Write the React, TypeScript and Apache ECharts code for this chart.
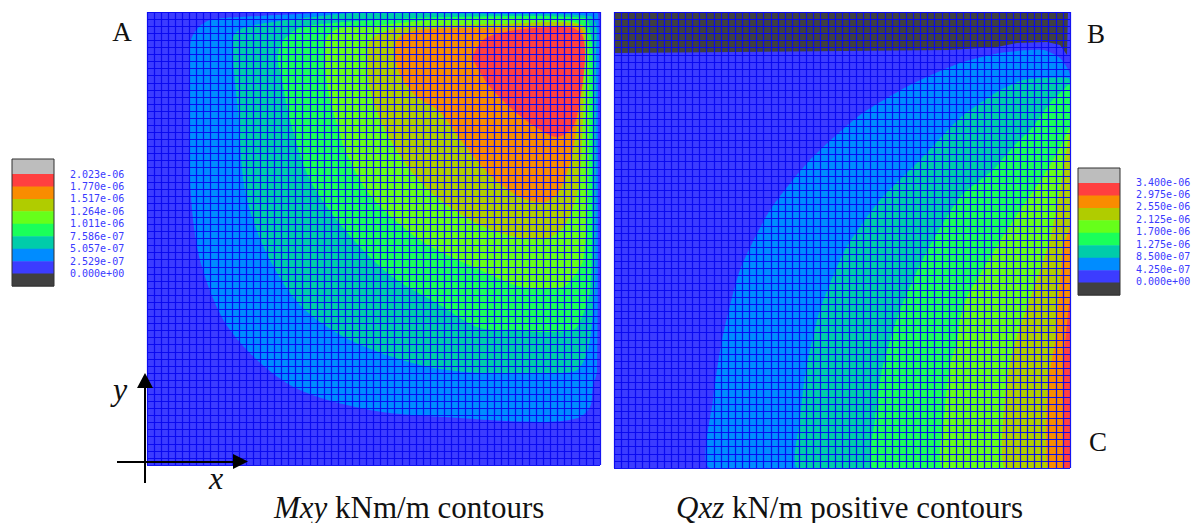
import React, { useEffect, useRef } from "react";
import * as echarts from "echarts";

type Pt = [number, number];

const bandColors = ["#bdbdbd", "#ff4040", "#f98c00", "#b0cc00", "#66ff1a", "#1aff5a", "#00ccaa", "#008cff", "#3c3cff", "#404040"];
const mxyTicks = ["2.023e-06", "1.770e-06", "1.517e-06", "1.264e-06", "1.011e-06", "7.586e-07", "5.057e-07", "2.529e-07", "0.000e+00"];
const qxzTicks = ["3.400e-06", "2.975e-06", "2.550e-06", "2.125e-06", "1.700e-06", "1.275e-06", "8.500e-07", "4.250e-07", "0.000e+00"];

const SIZE_A_X = 453;
const SIZE_A_Y = 453;
const SIZE_B = 456;
const CELLS = 64;

const mxyLightBlue: Pt[] = [[188,453],[153,451],[93,448],[63,445],[51,437],[44,425],[43,405],[43,285],[53,205],[83,135],[143,80],[223,55],[313,47],[393,43],[431,47],[443,58],[446,78],[450,95],[451,365],[451,451],[443,453]];
const mxyTeal: Pt[] = [[206,452],[166,448],[126,443],[96,437],[86,428],[86,405],[91,355],[98,275],[118,215],[153,160],[203,125],[273,100],[333,92],[410,92],[430,95],[440,112],[445,142],[448,178],[449,415],[449,440],[443,449],[353,451]];
const mxyGreen: Pt[] = [[213,444],[186,442],[153,437],[135,423],[131,405],[135,385],[143,345],[163,285],[198,235],[243,190],[293,160],[333,137],[373,135],[390,133],[426,135],[433,143],[443,175],[445,265],[446,405],[443,435],[438,447],[303,448]];
const mxyLime: Pt[] = [[213,438],[193,437],[180,428],[177,410],[183,365],[191,338],[198,315],[223,270],[273,225],[333,195],[376,178],[416,178],[428,190],[436,205],[441,265],[442,405],[439,435],[423,444],[303,446]];
const mxyOlive: Pt[] = [[225,427],[253,437],[353,441],[435,440],[437,415],[436,345],[431,275],[418,240],[401,227],[373,227],[333,240],[293,265],[263,295],[238,335],[223,375],[221,415]];
const mxyOrange: Pt[] = [[250,425],[273,435],[353,437],[433,437],[436,415],[433,365],[425,310],[413,275],[398,263],[373,268],[343,290],[316,322],[293,353],[268,370],[251,395]];
const mxyRed: Pt[] = [[326,408],[336,425],[353,432],[386,437],[426,437],[436,428],[438,405],[433,365],[426,338],[410,328],[390,337],[366,355],[343,378],[330,398]];

const qxzLightBlue: Pt[] = [[96,0],[99,68],[108,128],[126,198],[156,258],[196,308],[246,353],[296,383],[346,405],[386,415],[429,418],[446,410],[456,393],[456,0]];
const qxzTeal: Pt[] = [[184,0],[186,48],[192,98],[206,158],[231,218],[266,268],[306,308],[346,350],[383,376],[409,388],[436,390],[456,388],[456,0]];
const qxzGreen: Pt[] = [[259,0],[261,48],[268,98],[286,158],[311,213],[346,271],[379,298],[399,321],[418,340],[436,365],[446,375],[456,383],[456,0]];
const qxzLime: Pt[] = [[329,0],[331,58],[336,103],[343,126],[346,148],[353,171],[379,215],[393,238],[413,268],[429,291],[443,315],[453,335],[456,340],[456,0]];
const qxzOlive: Pt[] = [[391,0],[391,71],[396,105],[404,135],[411,155],[426,198],[436,228],[446,278],[453,321],[456,335],[456,0]];
const qxzOrange: Pt[] = [[434,0],[434,85],[441,125],[443,148],[446,188],[449,221],[454,235],[456,240],[456,0]];
const qxzRed: Pt[] = [[449,0],[449,105],[451,125],[454,155],[456,170],[456,0]];
const qxzDark: Pt[] = [[0,456],[454,456],[453,413],[446,423],[433,426],[403,425],[383,421],[336,418],[0,415]];

const MESH = "#0808f0";
const serif = "'Liberation Serif', serif";

function contour(points: Pt[], color: string, axis: number, smooth: number) {
  return {
    type: "custom",
    coordinateSystem: "cartesian2d",
    xAxisIndex: axis,
    yAxisIndex: axis,
    clip: true,
    silent: true,
    data: points,
    renderItem: (params: any, api: any) => {
      if (params.dataIndex !== 0) return null;
      return {
        type: "polygon",
        shape: { points: points.map((p) => api.coord(p)), smooth },
        style: { fill: color, stroke: null },
      };
    },
  };
}

function legend(left: number, top: number, labelX: number, firstLabelY: number, step: number, ticks: string[]) {
  const els: any[] = [];
  const w = 42;
  bandColors.forEach((c, i) => {
    const y0 = i === 0 ? top : top + 15 + (i - 1) * step;
    const h = i === 0 ? 15 : step;
    els.push({ type: "rect", shape: { x: left, y: y0, width: w, height: h + 0.5 }, style: { fill: c }, z: 50 });
  });
  els.push({
    type: "rect",
    shape: { x: left, y: top, width: w, height: 15 + step * 9 },
    style: { fill: "transparent", stroke: "#303030", lineWidth: 1 },
    z: 51,
  });
  ticks.forEach((t, i) => {
    els.push({
      type: "text",
      x: labelX,
      y: firstLabelY + i * step,
      style: { text: t, fill: "#3a3aff", font: "10px 'DejaVu Sans Mono', monospace", textVerticalAlign: "middle", textAlign: "left" },
      z: 52,
    });
  });
  return els;
}

function label(text: string, x: number, y: number, size: number, italic = false) {
  return {
    type: "text",
    x,
    y,
    style: {
      text,
      fill: "#111",
      font: `${italic ? "italic " : ""}${size}px ${serif}`,
      textAlign: "center",
      textVerticalAlign: "middle",
    },
    z: 60,
  };
}

function caption(italicPart: string, rest: string, x: number, y: number, size: number) {
  return {
    type: "text",
    x,
    y,
    style: {
      text: `{i|${italicPart}}{r|${rest}}`,
      textAlign: "left",
      textVerticalAlign: "middle",
      rich: {
        i: { font: `italic ${size}px ${serif}`, fill: "#111" },
        r: { font: `${size}px ${serif}`, fill: "#111" },
      },
    },
    z: 60,
  };
}

function axisPair(index: number, max: number) {
  return {
    gridIndex: index,
    type: "value",
    min: 0,
    max,
    interval: max / CELLS,
    z: 10,
    axisLine: { show: false },
    axisTick: { show: false },
    axisLabel: { show: false },
    splitLine: { show: true, lineStyle: { color: MESH, width: 1.2, opacity: 0.95 } },
  };
}

export default function App() {
  const ref = useRef<HTMLDivElement>(null);
  useEffect(() => {
    const chart = echarts.init(ref.current!, undefined, { renderer: "svg" });
    const [, , , olive, lime, green, teal, lightBlue, blue, dark] = bandColors;
    const [, red, orange] = bandColors;
    chart.setOption({
      animation: false,
      backgroundColor: "#ffffff",
      grid: [
        { left: 147, top: 12, width: SIZE_A_X, height: SIZE_A_Y, show: true, backgroundColor: blue, borderWidth: 0 },
        { left: 614, top: 12, width: SIZE_B, height: SIZE_B, show: true, backgroundColor: blue, borderWidth: 0 },
      ],
      xAxis: [axisPair(0, SIZE_A_X), axisPair(1, SIZE_B)],
      yAxis: [axisPair(0, SIZE_A_Y), axisPair(1, SIZE_B)],
      series: [
        contour(mxyLightBlue, lightBlue, 0, 0.3),
        contour(mxyTeal, teal, 0, 0.3),
        contour(mxyGreen, green, 0, 0.3),
        contour(mxyLime, lime, 0, 0.3),
        contour(mxyOlive, olive, 0, 0.3),
        contour(mxyOrange, orange, 0, 0.3),
        contour(mxyRed, red, 0, 0.3),
        contour(qxzLightBlue, lightBlue, 1, 0.2),
        contour(qxzTeal, teal, 1, 0.2),
        contour(qxzGreen, green, 1, 0.2),
        contour(qxzLime, lime, 1, 0.2),
        contour(qxzOlive, olive, 1, 0.2),
        contour(qxzOrange, orange, 1, 0.2),
        contour(qxzRed, red, 1, 0),
        contour(qxzDark, dark, 1, 0),
      ],
      graphic: {
        elements: [
          ...legend(12, 159, 70, 174, 12.45, mxyTicks),
          ...legend(1078, 168, 1136, 182, 12.45, qxzTicks),
          label("A", 122, 32, 27),
          label("B", 1096, 34, 27),
          label("C", 1098, 442, 27),
          label("y", 120, 389, 32, true),
          label("x", 216, 478, 32, true),
          { type: "line", shape: { x1: 145, y1: 483, x2: 145, y2: 385 }, style: { stroke: "#000", lineWidth: 2 }, z: 60 },
          { type: "polygon", shape: { points: [[145, 373], [137, 388], [153, 388]] }, style: { fill: "#000" }, z: 60 },
          { type: "line", shape: { x1: 117, y1: 462, x2: 236, y2: 462 }, style: { stroke: "#000", lineWidth: 2 }, z: 60 },
          { type: "polygon", shape: { points: [[248, 461.5], [233, 454], [233, 469]] }, style: { fill: "#000" }, z: 60 },
          caption("Mxy", " kNm/m contours", 274, 507, 31),
          caption("Qxz", " kN/m positive contours", 676, 507, 31),
        ],
      },
    });
    return () => chart.dispose();
  }, []);
  return <div ref={ref} style={{ position: "fixed", left: 0, top: 0, width: 1197, height: 523 }} />;
}
